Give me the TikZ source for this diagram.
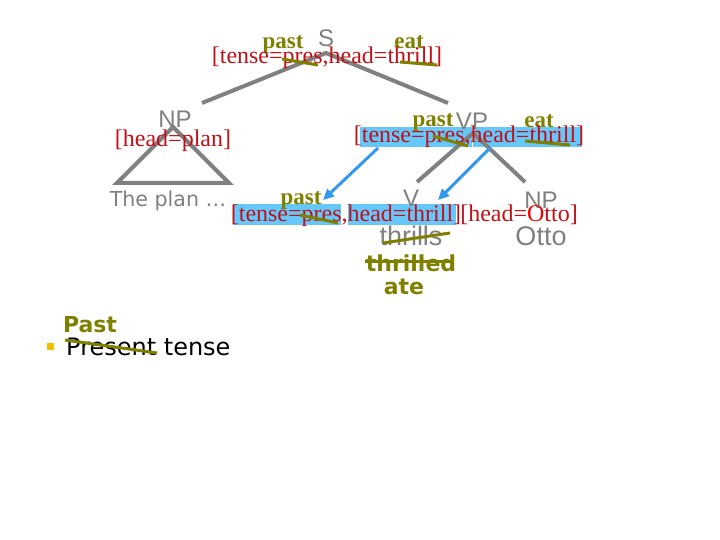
\documentclass[tikz,border=0pt]{standalone}
\usepackage{fontspec}
\setmainfont{Liberation Serif}
\newfontfamily\arialfont{Liberation Sans}
\newfontfamily\verdfont{DejaVu Sans}
\usetikzlibrary{arrows.meta}
\definecolor{treegray}{RGB}{128,128,128}
\definecolor{featred}{RGB}{192,16,24}
\definecolor{brightred}{RGB}{240,0,0}
\definecolor{chgolive}{RGB}{128,128,0}
\definecolor{hlblue}{RGB}{102,200,250}
\definecolor{arrowblue}{RGB}{51,153,240}
\definecolor{bulletgold}{RGB}{240,192,0}
\begin{document}
\begin{tikzpicture}[x=1pt, y=-1pt,
    cat/.style={text=treegray, font=\arialfont\fontsize{24}{24}\selectfont, anchor=base, inner sep=0},
    word/.style={text=treegray, font=\arialfont\fontsize{27}{27}\selectfont, anchor=base, inner sep=0},
    feat/.style={text=featred, font=\fontsize{24}{24}\selectfont, anchor=base, inner sep=0},
    chg/.style={text=chgolive, font=\bfseries\fontsize{23}{23}\selectfont, anchor=base, inner sep=0},
    chgsans/.style={text=chgolive, font=\verdfont\bfseries\fontsize{22}{22}\selectfont, anchor=base, inner sep=0},
    branch/.style={treegray, line width=4pt},
    strike/.style={chgolive, line width=3pt},
    hl/.style={fill=hlblue, draw=none},
    pass/.style={arrowblue, line width=3pt, -{Triangle[length=11pt, width=10pt]}}]
    \useasboundingbox (0,0) rectangle (720,540);

    % highlighted features
    \fill[hl] (360,127) rectangle (472,147);
    \fill[hl] (473,127) rectangle (582,147);
    \fill[hl] (233,204) rectangle (341,225);
    \fill[hl] (348,204) rectangle (456,225);

    % tree branches
    \coordinate (s-top) at (326,53);
    \coordinate (np-end) at (202,103);
    \coordinate (vp-end) at (448,103);
    \coordinate (vp-top) at (473,133);
    \coordinate (v-end) at (417,182);
    \coordinate (obj-end) at (525,182);
    \coordinate (tri-top) at (173,127);
    \coordinate (tri-left) at (117,183);
    \coordinate (tri-right) at (229,183);
    \draw[branch] (np-end) -- (s-top) -- (vp-end);
    \draw[branch] (v-end) -- (vp-top) -- (obj-end);
    \draw[branch, line join=miter] (tri-top) -- (tri-left) -- (tri-right) -- cycle;

    % percolation arrows
    \coordinate (tense-up) at (378,148);
    \coordinate (tense-down) at (323,200);
    \coordinate (head-up) at (490,148);
    \coordinate (head-down) at (438,200);
    \draw[pass] (tense-up) -- (tense-down);
    \draw[pass] (head-up) -- (head-down);

    % S
    \node[cat] (s) at (326,47) {S};
    \node[chg] (s-past) at (283,49) {past};
    \node[chg] (s-eat) at (409,49) {eat};
    \node[feat] (s-feat) at (327,64) {[tense=pres,head=thrill]};

    % subject NP
    \node[cat] (np) at (175,128) {NP};
    \node[feat] (np-feat) at (173,147) {[head=plan]};
    \node[text=treegray, font=\verdfont\fontsize{20.6}{20.6}\selectfont, anchor=base, inner sep=0] (plan) at (168,207) {The plan \dots};

    % VP
    \node[cat] (vp) at (472,130) {VP};
    \node[chg] (vp-past) at (433,127) {past};
    \node[chg] (vp-eat) at (539,128) {eat};
    \node[feat] (vp-feat) at (469,143) {[tense=pres,head=thrill]};

    % V and object
    \node[cat] (v) at (411,207) {V};
    \node[chg] (v-past) at (301,205) {past};
    \node[feat] (v-feat) at (346,222) {[tense=pres,head=thrill]};
    \node[cat] (obj) at (541,208) {NP};
    \node[feat] (obj-feat) at (519,222) {[head=\textcolor{brightred}{O}tto]};
    \node[word] (thrills) at (411,245) {thrills};
    \node[word] (otto) at (541,245) {Otto};
    \node[chgsans] (thrilled) at (411,271) {thrilled};
    \node[chgsans] (ate) at (404,294) {ate};

    % bullet
    \node[chgsans] (past-tense) at (90,332) {Past};
    \fill[bulletgold] (46.5,342.5) rectangle (53.5,349.5);
    \node[font=\verdfont\fontsize{24}{24}\selectfont, anchor=base west, inner sep=0] (present) at (66,355) {Present tense};

    % crossed out values
    \draw[strike] (282,59) -- (318,65);
    \draw[strike] (400,62) -- (437,65);
    \draw[strike] (433,136) -- (468,146);
    \draw[strike] (525,141) -- (570,145);
    \draw[strike] (300,215) -- (338,223);
    \draw[strike] (383,243) -- (450,233);
    \draw[strike] (365,261) -- (452,261);
    \draw[strike] (65,340) -- (157,353);
\end{tikzpicture}
\end{document}
